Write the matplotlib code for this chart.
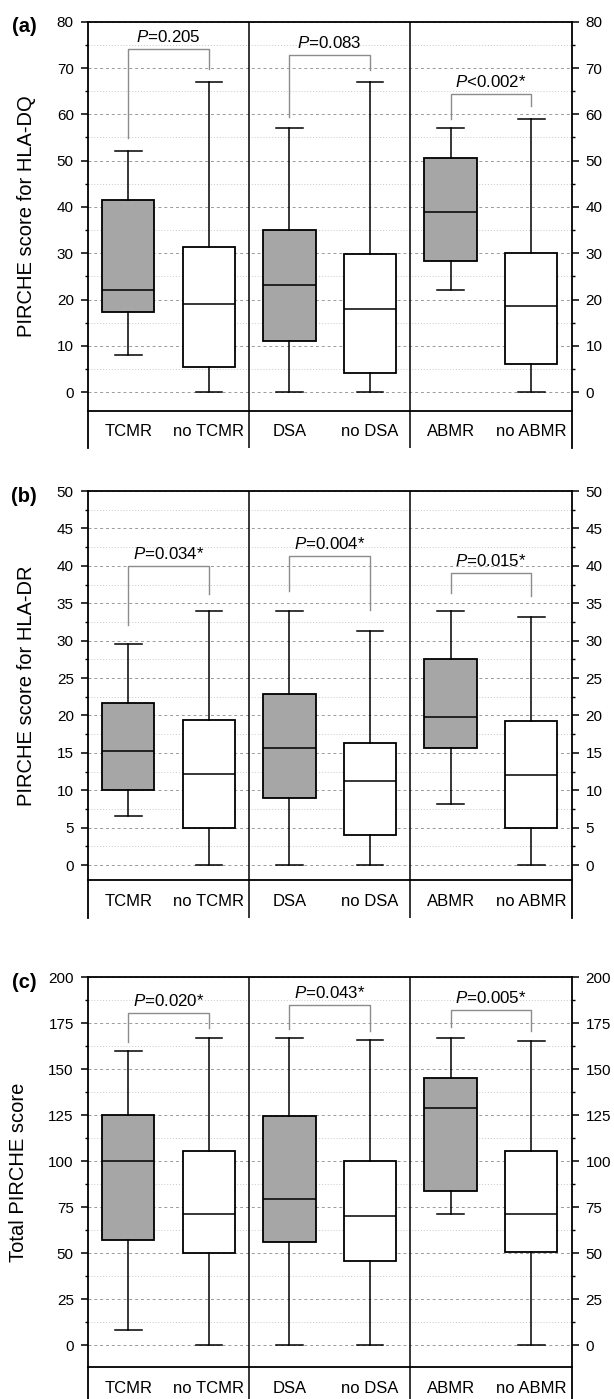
import matplotlib
matplotlib.use('Agg')
import matplotlib.pyplot as plt
from matplotlib.ticker import MultipleLocator

plt.rcParams['font.family'] = ['Liberation Sans', 'DejaVu Sans']
plt.rcParams['mathtext.fontset'] = 'custom'
plt.rcParams['mathtext.rm'] = 'Liberation Sans'
plt.rcParams['mathtext.it'] = 'Liberation Sans:italic'

# ---------------- data ----------------
groups = ['TCMR', 'no TCMR', 'DSA', 'no DSA', 'ABMR', 'no ABMR']

dq_whislo = [8.0, 0.0, 0.0, 0.0, 22.0, 0.0]
dq_q1 = [17.4, 5.4, 11.1, 4.1, 28.4, 6.0]
dq_med = [22.0, 19.0, 23.2, 18.0, 39.0, 18.6]
dq_q3 = [41.4, 31.3, 35.0, 29.8, 50.6, 30.0]
dq_whishi = [52.0, 67.0, 57.0, 67.0, 57.0, 59.0]
dq_p = ['=0.205', '=0.083', '<0.002*']
dq_br_top = [74.1, 72.8, 64.4]
dq_br_left = [54.9, 59.4, 59.0]
dq_br_right = [69.8, 69.5, 61.7]

dr_whislo = [6.5, 0.0, 0.0, 0.0, 8.2, 0.0]
dr_q1 = [10.0, 5.0, 9.0, 4.0, 15.6, 5.0]
dr_med = [15.2, 12.2, 15.7, 11.3, 19.8, 12.0]
dr_q3 = [21.7, 19.4, 22.9, 16.3, 27.5, 19.2]
dr_whishi = [29.6, 33.9, 33.9, 31.3, 33.9, 33.2]
dr_p = ['=0.034*', '=0.004*', '=0.015*']
dr_br_top = [40.0, 41.3, 39.1]
dr_br_left = [32.1, 36.6, 36.4]
dr_br_right = [36.2, 34.1, 35.9]

tot_whislo = [8.2, 0.0, 0.0, 0.0, 71.4, 0.0]
tot_q1 = [57.0, 50.0, 56.0, 45.8, 84.0, 50.7]
tot_med = [100.0, 71.6, 79.6, 70.4, 128.7, 71.6]
tot_q3 = [125.1, 105.5, 124.6, 100.1, 145.0, 105.5]
tot_whishi = [160.0, 166.8, 166.8, 165.7, 166.8, 165.5]
tot_p = ['=0.020*', '=0.043*', '=0.005*']
tot_br_top = [180.7, 184.8, 182.2]
tot_br_left = [164.9, 171.9, 173.0]
tot_br_right = [172.4, 171.0, 170.9]

panel_tags = ['(a)', '(b)', '(c)']
ylabels = ['PIRCHE score for HLA-DQ', 'PIRCHE score for HLA-DR', 'Total PIRCHE score']
ylims = [(-4, 80), (-2, 50), (-12, 200)]
ysteps = [10, 5, 25]

# ---------------- layout ----------------
W, H = 614, 1399
fig = plt.figure(figsize=(W / 100, H / 100), dpi=100)

LEFT, RIGHT = 88.0, 571.5
panel_px = [(21.7, 410.7, 448.3), (491.0, 880.0, 918.0), (977.3, 1367.3, 1405.0)]
ylabel_x = [27.0, 27.0, 18.5]

positions = [0.5, 1.5, 2.5, 3.5, 4.5, 5.5]
box_colors = ['#a6a6a6', 'white'] * 3
LW = 1.3

datasets = [
    (dq_whislo, dq_q1, dq_med, dq_q3, dq_whishi, dq_p, dq_br_top, dq_br_left, dq_br_right),
    (dr_whislo, dr_q1, dr_med, dr_q3, dr_whishi, dr_p, dr_br_top, dr_br_left, dr_br_right),
    (tot_whislo, tot_q1, tot_med, tot_q3, tot_whishi, tot_p, tot_br_top, tot_br_left, tot_br_right),
]

for i, (wl, q1, med, q3, wh, pvals, btop, bleft, bright) in enumerate(datasets):
    top, bot, lbot = panel_px[i]
    ax = fig.add_axes([LEFT / W, 1 - bot / H, (RIGHT - LEFT) / W, (bot - top) / H])
    stats = [dict(whislo=wl[k], q1=q1[k], med=med[k], q3=q3[k], whishi=wh[k], fliers=[], label=groups[k])
             for k in range(len(groups))]
    bp = ax.bxp(stats, positions=positions, widths=0.65, capwidths=0.33, patch_artist=True,
                showfliers=False,
                boxprops=dict(linewidth=LW, edgecolor='black'),
                whiskerprops=dict(linewidth=1.1, color='black'),
                capprops=dict(linewidth=1.1, color='black'),
                medianprops=dict(linewidth=1.1, color='black'))
    for patch, c in zip(bp['boxes'], box_colors):
        patch.set_facecolor(c)
        patch.set_zorder(2)

    ax.set_xlim(0, 6)
    ax.set_ylim(*ylims[i])
    ax.set_xticks([])
    for xv in (2, 4):
        ax.axvline(xv, color='black', lw=1.1, zorder=3)
    ax.yaxis.set_major_locator(MultipleLocator(ysteps[i]))
    ax.yaxis.set_minor_locator(MultipleLocator(ysteps[i] / 2))
    ax.tick_params(axis='y', which='major', direction='out', length=5.2, width=1.1, labelsize=11,
                   left=True, right=True, labelleft=True, labelright=True, pad=5)
    ax.tick_params(axis='y', which='minor', direction='out', length=2.2, width=1.0, left=True, right=True)
    ax.set_axisbelow(True)
    ax.grid(which='major', axis='y', linestyle=(0, (3, 3)), color='#9a9a9a', linewidth=0.7)
    ax.grid(which='minor', axis='y', linestyle=(0, (1, 2)), color='#c8c8c8', linewidth=0.7)
    for s in ax.spines.values():
        s.set_linewidth(LW)

    # significance brackets
    for g in range(3):
        xl, xr = positions[2 * g], positions[2 * g + 1]
        ax.plot([xl, xl, xr, xr], [bleft[g], btop[g], btop[g], bright[g]], color='#8c8c8c', lw=1.0, zorder=3)
        ax.annotate(r'$\mathit{P}$' + pvals[g], xy=((xl + xr) / 2, btop[g]), xytext=(0, 8.5),
                    textcoords='offset points', ha='center', va='center', fontsize=12.2)

    # category label strip
    axl = fig.add_axes([LEFT / W, 1 - lbot / H, (RIGHT - LEFT) / W, (lbot - bot) / H])
    axl.set_xlim(0, 6)
    axl.set_ylim(0, 1)
    axl.set_xticks([])
    axl.set_yticks([])
    axl.spines['top'].set_visible(False)
    axl.spines['bottom'].set_visible(False)
    axl.spines['left'].set_linewidth(LW)
    axl.spines['right'].set_linewidth(LW)
    axl.patch.set_alpha(0)
    for xv in (2, 4):
        axl.axvline(xv, color='black', lw=1.1)
    for k, g in enumerate(groups):
        axl.text(positions[k], 1 - 21.0 / (lbot - bot), g, ha='center', va='center', fontsize=12)

    fig.text(ylabel_x[i] / W, 1 - (top + bot) / 2 / H, ylabels[i], rotation=90,
             ha='center', va='center', fontsize=14.5)
    fig.text(24 / W, 1 - (top + 5) / H, panel_tags[i], ha='center', va='center',
             fontsize=14.5, fontweight='bold')

fig.savefig('out.png', dpi=100)
